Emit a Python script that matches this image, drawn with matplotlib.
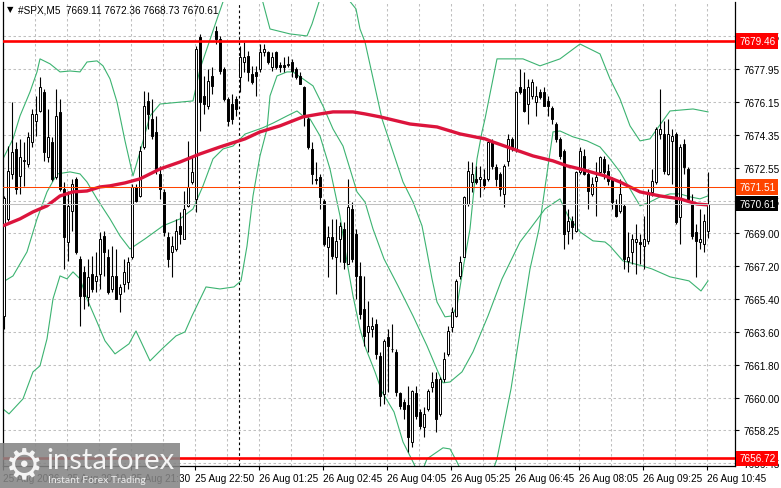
import matplotlib
matplotlib.use("Agg")
import matplotlib.pyplot as plt
import matplotlib.transforms as mtransforms
from matplotlib.patches import Rectangle

# ---------------- data ----------------
opens = [7664.50, 7669.78, 7672.23, 7673.59, 7672.12, 7672.94, 7672.78, 7673.97, 7675.12, 7675.66,
         7676.70, 7673.16, 7673.97, 7672.07, 7675.61, 7671.41, 7668.52, 7670.21, 7671.96, 7667.60,
         7666.89, 7665.53, 7666.78, 7666.40, 7666.78, 7668.85, 7667.71, 7665.96, 7666.67, 7665.69,
         7666.24, 7666.34, 7667.71, 7671.52, 7671.03, 7673.70, 7676.21, 7675.23, 7674.52, 7672.23,
         7671.25, 7668.80, 7667.98, 7668.14, 7669.40, 7668.69, 7670.49, 7671.79, 7670.87, 7679.69,
         7676.48, 7675.93, 7677.57, 7680.02, 7679.59, 7677.95, 7676.32, 7676.04, 7676.32, 7677.52,
         7678.33, 7678.66, 7677.68, 7677.79, 7677.95, 7678.88, 7678.88, 7678.06, 7678.88, 7678.17,
         7678.17, 7678.17, 7678.33, 7677.95, 7677.57, 7676.97, 7675.23, 7673.59, 7671.96, 7672.07,
         7670.76, 7668.25, 7668.80, 7667.71, 7668.69, 7669.23, 7667.32, 7670.32, 7668.96, 7666.67,
         7664.87, 7663.62, 7663.78, 7664.05, 7662.31, 7660.24, 7663.35, 7662.69, 7662.53, 7660.29,
         7659.80, 7659.64, 7657.62, 7660.29, 7659.26, 7658.44, 7659.42, 7660.62, 7661.06, 7659.15,
         7661.06, 7662.42, 7663.89, 7664.49, 7666.67, 7667.71, 7670.59, 7671.79, 7671.96, 7671.96,
         7671.96, 7671.96, 7673.97, 7672.61, 7672.23, 7671.14, 7672.94, 7674.14, 7673.59, 7676.97,
         7676.86, 7676.04, 7676.48, 7676.15, 7676.70, 7676.70, 7676.21, 7675.83, 7674.95, 7674.14,
         7673.48, 7669.12, 7669.67, 7669.12, 7672.34, 7673.21, 7672.23, 7671.14, 7671.85, 7672.34,
         7673.05, 7672.39, 7671.96, 7670.59, 7670.21, 7670.49, 7667.49, 7667.98, 7668.52, 7668.52,
         7668.30, 7668.58, 7671.25, 7671.79, 7674.41, 7674.41, 7672.23, 7674.03, 7674.41, 7669.89,
         7673.86, 7672.50, 7670.70, 7669.07, 7668.52, 7668.41, 7669.11]

highs = [7671.00, 7673.75, 7676.16, 7673.97, 7674.14, 7673.97, 7674.52, 7675.77, 7676.48, 7677.52,
         7676.86, 7675.77, 7674.25, 7676.86, 7676.32, 7671.79, 7671.30, 7671.96, 7672.07, 7667.76,
         7667.22, 7667.60, 7667.76, 7667.98, 7669.07, 7669.12, 7668.14, 7668.30, 7668.14, 7666.24,
         7667.60, 7667.71, 7671.68, 7671.68, 7673.75, 7676.75, 7676.70, 7676.32, 7675.39, 7672.67,
         7671.41, 7669.07, 7668.85, 7669.78, 7670.16, 7671.30, 7674.03, 7673.21, 7679.21, 7679.86,
         7677.57, 7677.95, 7678.06, 7680.29, 7679.75, 7678.06, 7676.43, 7676.59, 7676.48, 7679.21,
         7679.42, 7678.93, 7678.12, 7678.12, 7679.31, 7679.31, 7678.93, 7678.88, 7678.93, 7678.33,
         7678.60, 7678.66, 7678.50, 7678.06, 7677.79, 7677.03, 7675.34, 7673.97, 7672.88, 7672.23,
         7670.87, 7669.40, 7669.78, 7669.78, 7669.61, 7669.61, 7671.96, 7670.70, 7669.23, 7667.43,
         7666.67, 7665.31, 7664.44, 7664.33, 7662.53, 7663.24, 7663.78, 7664.05, 7662.69, 7660.35,
         7659.97, 7660.68, 7660.45, 7660.68, 7659.42, 7659.53, 7660.51, 7661.44, 7661.44, 7661.17,
         7662.53, 7663.94, 7664.98, 7666.51, 7667.76, 7671.03, 7672.94, 7672.88, 7672.67, 7672.67,
         7672.50, 7674.03, 7674.14, 7672.78, 7672.34, 7672.78, 7674.41, 7674.25, 7676.75, 7677.95,
         7677.79, 7677.41, 7677.41, 7677.03, 7676.86, 7676.97, 7676.48, 7675.93, 7675.06, 7674.25,
         7673.59, 7670.32, 7669.94, 7672.40, 7673.70, 7673.59, 7672.50, 7672.07, 7672.88, 7673.21,
         7673.21, 7672.78, 7672.07, 7670.87, 7671.96, 7670.59, 7669.07, 7668.96, 7669.50, 7668.96,
         7669.94, 7671.41, 7672.50, 7674.79, 7676.86, 7675.12, 7675.23, 7674.68, 7674.52, 7673.86,
         7674.14, 7672.61, 7671.14, 7669.50, 7670.32, 7670.05, 7672.36]

lows = [7663.80, 7669.67, 7671.96, 7671.14, 7671.14, 7671.58, 7672.61, 7673.70, 7674.30, 7675.61,
        7672.94, 7672.88, 7671.85, 7671.96, 7671.30, 7667.05, 7667.49, 7669.12, 7667.87, 7663.94,
        7664.87, 7665.03, 7665.80, 7665.80, 7665.96, 7666.67, 7665.69, 7665.80, 7665.42, 7664.70,
        7665.80, 7665.96, 7667.60, 7670.70, 7670.98, 7673.59, 7674.68, 7674.14, 7672.23, 7670.87,
        7668.85, 7667.16, 7666.62, 7668.03, 7668.41, 7668.69, 7670.43, 7671.68, 7670.16, 7674.57,
        7675.50, 7675.77, 7676.59, 7679.31, 7677.68, 7676.21, 7674.85, 7674.95, 7675.39, 7676.70,
        7677.79, 7677.30, 7677.14, 7676.48, 7677.79, 7678.66, 7678.23, 7677.84, 7677.95, 7677.79,
        7677.79, 7678.06, 7677.52, 7677.41, 7677.14, 7674.85, 7673.59, 7671.68, 7671.68, 7670.32,
        7668.30, 7666.62, 7667.60, 7665.69, 7667.43, 7667.05, 7667.32, 7667.43, 7665.42, 7664.33,
        7662.85, 7662.53, 7663.35, 7662.15, 7659.58, 7659.69, 7660.35, 7662.53, 7660.13, 7659.42,
        7658.88, 7657.08, 7657.35, 7658.88, 7658.33, 7657.90, 7659.31, 7660.35, 7658.17, 7659.04,
        7660.89, 7662.31, 7663.62, 7664.44, 7666.51, 7667.71, 7670.49, 7671.25, 7671.68, 7670.98,
        7671.41, 7671.85, 7672.50, 7671.58, 7671.03, 7670.43, 7672.67, 7673.48, 7673.43, 7676.59,
        7675.61, 7674.95, 7676.32, 7675.39, 7676.32, 7675.93, 7675.39, 7674.95, 7673.97, 7673.05,
        7668.14, 7668.41, 7668.69, 7669.07, 7672.23, 7672.15, 7670.32, 7671.03, 7669.94, 7672.23,
        7671.96, 7671.63, 7670.32, 7669.89, 7670.10, 7667.05, 7666.89, 7667.32, 7666.78, 7667.32,
        7667.05, 7668.41, 7671.03, 7671.68, 7674.14, 7672.23, 7672.17, 7671.68, 7669.50, 7668.41,
        7672.23, 7670.70, 7668.69, 7666.62, 7668.14, 7667.98, 7668.73]

closes = [7670.90, 7672.39, 7673.43, 7671.41, 7673.16, 7673.00, 7674.25, 7675.50, 7675.50, 7676.97,
          7673.43, 7674.25, 7671.96, 7675.39, 7671.41, 7668.80, 7670.49, 7671.68, 7667.98, 7665.58,
          7665.58, 7666.62, 7665.96, 7666.67, 7668.69, 7667.98, 7665.80, 7666.67, 7665.42, 7666.07,
          7666.89, 7667.43, 7671.52, 7670.76, 7673.48, 7675.93, 7675.50, 7674.30, 7672.50, 7671.41,
          7669.07, 7667.60, 7668.30, 7669.12, 7668.96, 7670.32, 7671.52, 7672.34, 7679.04, 7676.15,
          7676.04, 7677.30, 7677.03, 7679.59, 7677.84, 7676.32, 7675.12, 7675.23, 7675.77, 7678.60,
          7678.60, 7677.79, 7677.25, 7677.57, 7678.88, 7679.04, 7678.33, 7678.60, 7678.06, 7678.06,
          7678.06, 7678.23, 7677.84, 7677.52, 7677.14, 7675.50, 7673.70, 7672.23, 7671.90, 7670.98,
          7668.41, 7668.80, 7667.76, 7668.58, 7669.40, 7667.43, 7670.43, 7667.60, 7666.67, 7664.60,
          7663.40, 7663.94, 7663.94, 7662.42, 7660.13, 7663.13, 7662.86, 7662.69, 7660.35, 7659.58,
          7659.42, 7657.90, 7660.40, 7659.04, 7658.50, 7659.15, 7660.40, 7660.89, 7658.88, 7661.06,
          7662.15, 7663.67, 7664.70, 7666.40, 7667.43, 7670.98, 7672.39, 7672.23, 7671.79, 7672.07,
          7671.63, 7673.97, 7672.67, 7671.96, 7671.41, 7672.67, 7674.14, 7673.59, 7676.70, 7676.70,
          7675.66, 7676.97, 7677.25, 7676.48, 7676.43, 7675.93, 7675.93, 7675.23, 7674.14, 7673.21,
          7668.96, 7669.67, 7669.34, 7672.34, 7673.48, 7672.23, 7671.30, 7671.68, 7672.07, 7673.16,
          7672.34, 7671.85, 7670.70, 7669.94, 7671.14, 7667.60, 7667.71, 7668.69, 7668.69, 7668.41,
          7668.69, 7671.14, 7671.85, 7674.68, 7674.68, 7672.39, 7674.41, 7674.30, 7669.61, 7673.70,
          7672.61, 7670.87, 7668.85, 7668.58, 7668.69, 7669.67, 7670.61]

# indicator lines: (bar position, price)
band1_x = [-0.25, 2.25, 4, 6.5, 8.25, 9, 11.5, 14, 16.5, 19, 20.75, 23.25, 24.75, 26.5, 28.25, 30.25,
           32.25, 34, 36.5, 39, 47.25, 49, 53.25, 55, 59, 64.5, 66.5, 71.5, 75.75, 77, 79, 84, 88, 89,
           90.25, 94.5, 97.25, 99.75, 102.25, 104.5, 105.75, 107, 108.25, 110.25, 112, 113.25, 114.75,
           116.5, 118.25, 119.5, 120.25, 122.25, 123.25, 129.75, 134, 139, 144, 149, 151.5, 154, 156.5,
           159, 161.5, 163.25, 166.5, 172.25, 176]
band1_y = [7673.05, 7674.14, 7675.39, 7676.70, 7677.79, 7678.50, 7678.23, 7677.79, 7677.84, 7677.79,
           7678.33, 7678.39, 7678.12, 7677.41, 7676.15, 7674.03, 7672.12, 7673.43, 7675.39, 7676.04,
           7676.21, 7677.95, 7680.67, 7681.77, 7682.58, 7681.77, 7680.13, 7679.86, 7679.75, 7680.40,
           7681.77, 7682.31, 7681.22, 7680.13, 7679.42, 7675.23, 7673.43, 7671.79, 7670.70, 7669.40,
           7667.98, 7666.51, 7665.25, 7664.44, 7664.49, 7665.03, 7667.05, 7669.23, 7673.05, 7674.52,
           7675.23, 7677.41, 7678.50, 7678.50, 7678.12, 7678.50, 7679.31, 7678.77, 7677.41, 7676.32,
           7674.85, 7674.03, 7674.14, 7674.68, 7675.66, 7675.77, 7675.61]

band2_x = [-0.25, 2.25, 5.75, 8.25, 10.75, 13.25, 16.5, 19, 20.75, 23.25, 26.5, 29, 31.5, 35.25, 39.75,
           44, 47.25, 49.75, 52.25, 54.75, 57.25, 60.25, 64.75, 67.25, 70.75, 73.25, 74.75, 76.5, 79,
           81.5, 84, 85.75, 87.25, 89, 90.5, 92.75, 94.5, 97.5, 99.75, 102.25, 104, 105.75, 109.75,
           111.5, 113.25, 115.25, 121.5, 123.25, 126.75, 129, 131.5, 133.75, 137.25, 139, 142.25,
           145.75, 149, 151.5, 154, 156.5, 159, 161.5, 164, 166.5, 169, 171.5, 174, 176]
band2_y = [7666.34, 7666.67, 7667.98, 7669.78, 7671.25, 7672.23, 7672.34, 7672.23, 7671.79, 7670.87,
           7669.78, 7668.85, 7668.14, 7668.69, 7669.40, 7669.78, 7670.32, 7671.58, 7673.05, 7673.59,
           7673.75, 7674.40, 7674.75, 7675.00, 7675.39, 7675.66, 7675.39, 7675.23, 7674.30, 7672.50,
           7669.94, 7667.43, 7665.58, 7663.78, 7662.69, 7661.44, 7660.35, 7659.26, 7657.62, 7656.53,
           7655.72, 7656.70, 7657.30, 7657.24, 7656.53, 7655.61, 7655.61, 7656.70, 7660.51, 7663.62,
           7667.05, 7669.23, 7674.52, 7674.57, 7674.25, 7674.03, 7673.70, 7673.05, 7672.34, 7671.41,
           7670.49, 7670.70, 7670.98, 7671.14, 7671.14, 7670.98, 7670.87, 7671.03]

band3_x = [-0.25, 1.25, 4.75, 7.25, 9, 10.75, 12.25, 14, 15.75, 17.25, 19, 20.75, 23.25, 25.25, 27.75,
           31.25, 33, 36.5, 39.5, 43, 45.25, 47, 50.5, 54, 57.5, 59.25, 60.75, 62.25, 64, 65.75, 66.5,
           68.25, 70.75, 72.25, 74.75, 77.25, 79.75, 82.25, 84.75, 86.5, 88.25, 90.25, 92.25, 95, 98.5,
           102.25, 105.75, 108.5, 109.75, 111.5, 114.5, 117.25, 121, 124.5, 129, 131.5, 135.25, 139,
           141, 144, 147.25, 150.25, 151.5, 154.75, 159.5, 162, 166.5, 171.25, 174.25, 176]
band3_y = [7659.42, 7659.15, 7659.97, 7661.44, 7661.77, 7663.24, 7665.42, 7666.67, 7666.51, 7666.89,
           7666.51, 7665.42, 7664.16, 7663.13, 7662.42, 7662.97, 7663.67, 7662.04, 7662.69, 7663.40,
           7663.62, 7664.49, 7666.07, 7665.96, 7666.07, 7666.40, 7668.30, 7671.03, 7673.21, 7674.68,
           7676.48, 7677.57, 7677.79, 7677.79, 7677.41, 7677.03, 7675.93, 7674.68, 7673.75, 7672.50,
           7671.25, 7670.70, 7669.23, 7667.60, 7666.13, 7664.49, 7662.86, 7661.44, 7660.84, 7660.89,
           7661.44, 7662.53, 7664.49, 7666.51, 7668.52, 7669.23, 7670.32, 7670.87, 7669.94, 7669.07,
           7668.58, 7668.52, 7668.30, 7667.49, 7667.22, 7667.05, 7666.62, 7666.40, 7665.85, 7666.40]

ma_x = [-0.25, 4, 7.25, 10.75, 14, 17.25, 20.75, 24, 26.5, 30.25, 34, 39, 44, 49, 54, 60.25, 64, 69,
        74.75, 79, 82.25, 87.25, 90.25, 94, 101.5, 108.25, 114, 120.25, 122.25, 127.25, 132.25, 137.25,
        140.75, 144, 150.25, 154, 159, 164, 169, 173.25, 176]
ma_y = [7669.40, 7669.78, 7670.16, 7670.49, 7671.03, 7671.25, 7671.30, 7671.52, 7671.58, 7671.74,
        7671.96, 7672.50, 7672.88, 7673.32, 7673.70, 7674.14, 7674.52, 7674.85, 7675.34, 7675.50,
        7675.61, 7675.61, 7675.50, 7675.34, 7674.95, 7674.79, 7674.41, 7674.14, 7673.97, 7673.59,
        7673.21, 7672.94, 7672.67, 7672.50, 7672.12, 7671.79, 7671.25, 7671.03, 7670.87, 7670.59,
        7670.54]

resist_level = 7679.46
support_level = 7656.72
ask_level = 7671.51
bid_level = 7670.61

ytick_vals = [7679.77, 7677.95, 7676.15, 7674.35, 7672.55, 7670.75, 7669.00, 7667.20, 7665.40,
              7663.60, 7661.80, 7660.00, 7658.25, 7656.45]
ytick_labels = ["7679.75", "7677.95", "7676.15", "7674.35", "7672.55", "7670.75", "7669.00", "7667.20",
                "7665.40", "7663.60", "7661.80", "7660.00", "7658.25", "7656.45"]

x_labels = ["25 Aug 2026", "25 Aug 20:10", "25 Aug 21:30", "25 Aug 22:50", "26 Aug 01:25",
            "26 Aug 02:45", "26 Aug 04:05", "26 Aug 05:25", "26 Aug 06:45", "26 Aug 08:05",
            "26 Aug 09:25", "26 Aug 10:45"]
label_step = 16
grid_step = 8
day_separator = 58.75

header = "#SPX,M5  7669.11 7672.36 7668.73 7670.61"

# ---------------- figure ----------------
W, H = 781, 489
fig = plt.figure(figsize=(W / 100, H / 100), dpi=100)
fig.patch.set_facecolor("white")
ax = fig.add_axes([3 / W, (H - 467) / H, (735 - 3) / W, (467 - 3) / H])
ax.set_facecolor("white")

n = len(closes)
xs = list(range(n))
ax.set_xlim(-0.25, 182.75)
ax.set_ylim(7656.31, 7681.60)

FONT = ["Liberation Sans", "DejaVu Sans"]

# grid / ticks
xt_major = [k * label_step - 0.25 for k in range(len(x_labels))]
xt_minor = [k * grid_step - 0.25 for k in range(1, 23) if (k * grid_step) % label_step != 0]
ax.set_xticks(xt_major)
ax.set_xticklabels(x_labels, fontsize=7.2, family=FONT, ha="left")
ax.set_xticks(xt_minor, minor=True)
ax.tick_params(axis="x", which="major", length=3, width=0.8, pad=2, colors="black")
ax.tick_params(axis="x", which="minor", length=0)
ax.yaxis.tick_right()
ax.set_yticks(ytick_vals)
ax.set_yticklabels(ytick_labels, fontsize=7.2, family=FONT)
ax.tick_params(axis="y", length=3, width=0.8, pad=3, colors="black")
ax.grid(True, which="both", color="#c0c0c0", linewidth=0.75, linestyle=(0, (2.4, 2.4)), zorder=0)
ax.set_axisbelow(True)

for s in ["left", "bottom", "right"]:
    ax.spines[s].set_color("black")
    ax.spines[s].set_linewidth(0.9)
ax.spines["top"].set_visible(False)

# day separator
ax.axvline(day_separator, color="black", linewidth=0.8, linestyle=(0, (2.4, 2.4)), zorder=1)

# bands
band_col = "#3cb371"
for bx, by in [(band1_x, band1_y), (band2_x, band2_y), (band3_x, band3_y)]:
    ax.plot(bx, by, color=band_col, linewidth=0.8, zorder=2)

# candles
ax.vlines(xs, lows, highs, color="black", linewidth=0.8, zorder=3)
heights = [c - o for o, c in zip(opens, closes)]
fcs = ["white" if c >= o else "black" for o, c in zip(opens, closes)]
ax.bar(xs, heights, bottom=opens, width=0.58, color=fcs, edgecolor="black",
       linewidth=0.7, zorder=4)

# moving average
ax.plot(ma_x, ma_y, color="#dc143c", linewidth=2.4, solid_capstyle="butt", zorder=5)

# horizontal lines
ax.axhline(resist_level, color="#ff0000", linewidth=1.9, zorder=6)
ax.axhline(support_level, color="#ff0000", linewidth=1.9, zorder=6)
ax.axhline(ask_level, color="#ff4500", linewidth=0.75, zorder=6)
ax.axhline(bid_level, color="#c0c0c0", linewidth=0.75, zorder=6)

# right-side price labels
trans = mtransforms.blended_transform_factory(ax.transAxes, ax.transData)
for val, bg in [(resist_level, "#ff0000"), (support_level, "#ff0000"),
                (ask_level, "#ff4500"), (bid_level, "black")]:
    ax.annotate(f"{val:.2f}", xy=(1.0, val), xycoords=trans, xytext=(3.0, 0),
                textcoords="offset points", ha="left", va="center", fontsize=7.2,
                family=FONT, color="white", annotation_clip=False, zorder=10,
                bbox=dict(boxstyle="square,pad=0.28", fc=bg, ec="none"))

# header
fig.text(7 / W, 1 - 10 / H, "\u25bc", fontsize=6, family=["DejaVu Sans"], color="black",
         va="center", ha="left")
fig.text(18 / W, 1 - 10.5 / H, header, fontsize=7.2, family=FONT, color="black",
         va="center", ha="left")

# watermark
fig.patches.append(Rectangle((0, 0), 180 / W, 45 / H, transform=fig.transFigure,
                             facecolor="#858585", alpha=0.88, edgecolor="none", zorder=20))
fig.text(24 / W, 1 - 466 / H, "\u2699", fontsize=31, family=["DejaVu Sans"], color="#f4f4f4",
         ha="center", va="center", zorder=21)
fig.text(46 / W, 1 - 461 / H, "instaforex", fontsize=21, family=["Lato", "DejaVu Sans"],
         color="#f4f4f4", ha="left", va="center", zorder=21)
fig.text(48 / W, 1 - 481 / H, "Instant Forex Trading", fontsize=7.5,
         family=["Lato", "DejaVu Sans"], color="#ededed", ha="left", va="center", zorder=21)

fig.savefig("out.png", dpi=100, facecolor="white")
